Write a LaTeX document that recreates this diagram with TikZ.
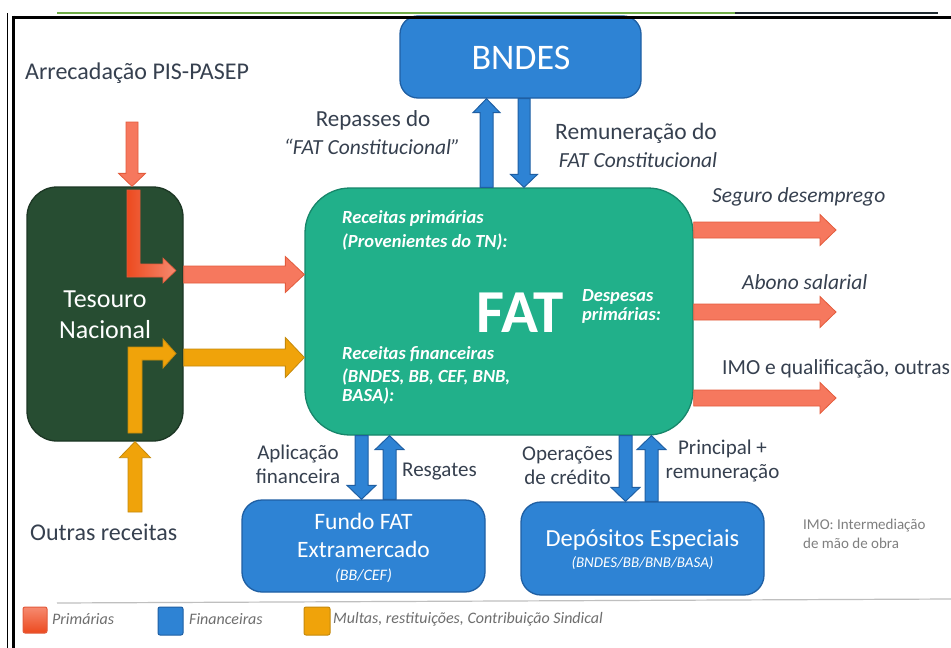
\documentclass[tikz,border=0pt]{standalone}
\usepackage{fontspec}
\setmainfont{Carlito}
\usetikzlibrary{calc}
\definecolor{fatg}{HTML}{21B08A}
\definecolor{fatb}{HTML}{17866A}
\definecolor{tesg}{HTML}{274D32}
\definecolor{tesb}{HTML}{1C3624}
\definecolor{bluef}{HTML}{2E83D4}
\definecolor{blueb}{HTML}{1F5FA3}
\definecolor{orf}{HTML}{F0A30A}
\definecolor{orb}{HTML}{C58A0C}
\definecolor{salf}{HTML}{F6785E}
\definecolor{salb}{HTML}{E35B3C}
\definecolor{redL}{HTML}{EC4A1F}
\definecolor{redL2}{HTML}{F68A70}
\definecolor{labtxt}{HTML}{36404F}
\definecolor{notetxt}{HTML}{7F7F7F}
\definecolor{legtxt}{HTML}{6E6E6E}
\definecolor{frgreen}{HTML}{70AD47}
\definecolor{frdark}{HTML}{1F2A30}
\definecolor{grayline}{HTML}{BFBFBF}
% block arrow: #1 style, #2 start, #3 tip, #4 shaft half width, #5 head half width, #6 head length
\newcommand\blkarrow[6]{%
  \coordinate (ba-h) at ($(#3)!#6!(#2)$);
  \draw[#1] ($(#2)!#4!90:(#3)$) -- ($(ba-h)!#4!-90:(#2)$) -- ($(ba-h)!#5!-90:(#2)$)
    -- (#3) -- ($(ba-h)!#5!90:(#2)$) -- ($(ba-h)!#4!90:(#2)$) -- ($(#2)!#4!-90:(#3)$) -- cycle;}
\begin{document}
\begin{tikzpicture}[x=1pt,y=-1pt,
  box/.style={rectangle, inner sep=0pt, line width=1.3pt},
  bluebox/.style={box, fill=bluef, draw=blueb, rounded corners=20pt, text=white},
  lbl/.style={inner sep=0pt, text=labtxt, font=\fontsize{23}{26}\selectfont, align=center},
  ilbl/.style={inner sep=0pt, text=labtxt, font=\fontsize{21.5}{26}\selectfont\itshape, align=center},
  intxt/.style={inner sep=0pt, text=white, font=\fontsize{18.5}{23}\selectfont\bfseries\itshape, anchor=west},
  salarrow/.style={fill=salf, draw=salb, line width=0.8pt, line join=miter},
  orarrow/.style={fill=orf, draw=orb, line width=0.8pt},
  bluarrow/.style={fill=bluef, draw=blueb, line width=1pt},
  legsq/.style={rounded corners=2pt, line width=1pt},
  legtx/.style={inner sep=0pt, anchor=west, text=legtxt, font=\fontsize{16}{18}\selectfont\itshape}
]
\useasboundingbox (0,0) rectangle (951,648);
\fill[white] (0,0) rectangle (951,648);

% ---- boxes
\node[box, fill=tesg, draw=tesb, rounded corners=30pt, minimum width=156pt, minimum height=254pt] (tes) at (105,314) {};
\node[box, fill=fatg, draw=fatb, rounded corners=45pt, minimum width=388pt, minimum height=247pt] (fat) at (499,311.5) {};
\node[bluebox, minimum width=241pt, minimum height=82pt, rounded corners=18pt] (bndes) at (520.5,57) {};
\node[bluebox, minimum width=243pt, minimum height=92pt] (fundo) at (363.5,546) {};
\node[bluebox, minimum width=243pt, minimum height=93pt] (dep) at (642.5,548.5) {};

% ---- box texts
\node[inner sep=0pt, text=white, font=\fontsize{36}{40}\selectfont] (bndest) at (521,58) {BNDES};
\node[inner sep=0pt, text=white, font=\fontsize{26}{31}\selectfont, align=center] (test) at (105,314.5) {Tesouro\\Nacional};
\node[inner sep=0pt, text=white, font=\fontsize{61}{61}\selectfont\bfseries] (fatt) at (520,313) {FAT};
\node[intxt] (rp1) at (342,218) {Receitas primárias};
\node[intxt] (rp2) at (342,242) {(Provenientes do TN):};
\node[intxt] (dp1) at (582,297) {Despesas};
\node[intxt] (dp2) at (582,315) {primárias:};
\node[intxt] (rf1) at (342,354) {Receitas financeiras};
\node[intxt] (rf2) at (342,377) {(BNDES, BB, CEF, BNB,};
\node[intxt] (rf3) at (342,396) {BASA):};
\node[inner sep=0pt, text=white, font=\fontsize{23.5}{28}\selectfont, align=center] (fundot) at (363.5,535) {Fundo FAT\\Extramercado};
\node[inner sep=0pt, text=white, font=\fontsize{16}{18}\selectfont\itshape] (fundos) at (363.5,576) {(BB/CEF)};
\node[inner sep=0pt, text=white, font=\fontsize{24.5}{28}\selectfont] (dept) at (642.5,540) {Depósitos Especiais};
\node[inner sep=0pt, text=white, font=\fontsize{15}{18}\selectfont\itshape] (deps) at (642.5,563) {(BNDES/BB/BNB/BASA)};

% ---- decorative L arrows inside Tesouro
\draw[left color=redL, right color=redL2, draw=salb, line width=0.6pt]
  (127,190) -- (127,277) -- (163,277) -- (163,283) -- (176,270.5) -- (163,258) -- (163,264) -- (140,264) -- (140,190) -- cycle;
\draw[orarrow]
  (128,433) -- (128,347) -- (163,347) -- (163,339) -- (176,353.5) -- (163,368) -- (163,360) -- (142,360) -- (142,433) -- cycle;

% ---- connectors
\coordinate (pis) at (132,122);
\blkarrow{salarrow}{pis}{132,0 |- tes.north}{6pt}{13.5pt}{13pt}
\coordinate (outras) at (135,512);
\blkarrow{orarrow}{outras}{135,0 |- tes.south}{7pt}{15.5pt}{16pt}
\blkarrow{salarrow}{tes.east |- 0,274.5}{fat.west |- 0,274.5}{8.5pt}{18pt}{19pt}
\blkarrow{orarrow}{tes.east |- 0,357.5}{fat.west |- 0,357.5}{8.5pt}{20pt}{19pt}

\blkarrow{bluarrow}{486.5,0 |- fat.north}{486.5,0 |- bndes.south}{6.5pt}{13.5pt}{14pt}
\blkarrow{bluarrow}{524,0 |- bndes.south}{524,0 |- fat.north}{6pt}{13.5pt}{13pt}

\coordinate (seg) at (836,230);
\coordinate (abo) at (836,312);
\coordinate (imo) at (836,398);
\blkarrow{salarrow}{fat.east |- seg}{seg}{8pt}{15.5pt}{16pt}
\blkarrow{salarrow}{fat.east |- abo}{abo}{8pt}{15.5pt}{16pt}
\blkarrow{salarrow}{fat.east |- imo}{imo}{8pt}{15.5pt}{16pt}

\blkarrow{bluarrow}{361.5,0 |- fat.south}{361.5,0 |- fundo.north}{6.5pt}{14.5pt}{14pt}
\blkarrow{bluarrow}{389.5,0 |- fundo.north}{389.5,0 |- fat.south}{6.5pt}{14.5pt}{14pt}
\blkarrow{bluarrow}{625.5,0 |- fat.south}{625.5,0 |- dep.north}{6.5pt}{14.5pt}{14pt}
\blkarrow{bluarrow}{651.5,0 |- dep.north}{651.5,0 |- fat.south}{6.5pt}{14.5pt}{14pt}

% ---- labels
\node[lbl, font=\fontsize{24}{27}\selectfont, anchor=west] (arrec) at (25,73) {Arrecadação PIS-PASEP};
\node[lbl, font=\fontsize{24}{27}\selectfont, anchor=west] (outt) at (30,532) {Outras receitas};
\node[lbl] (rep1) at (373,120) {Repasses do};
\node[ilbl] (rep2) at (372,147) {“FAT Constitucional”};
\node[lbl, font=\fontsize{23.5}{26}\selectfont] (rem1) at (636,133) {Remuneração do};
\node[ilbl] (rem2) at (638,160) {FAT Constitucional};
\node[ilbl, anchor=west] (segt) at (712,197) {Seguro desemprego};
\node[ilbl, anchor=west] (abot) at (742,282) {Abono salarial};
\node[lbl, font=\fontsize{21.5}{25}\selectfont, anchor=west] (imot) at (722,369) {IMO e qualificação, outras};
\node[lbl, font=\fontsize{21}{24}\selectfont] (aplt) at (298,464) {Aplicação\\financeira};
\node[lbl, font=\fontsize{21}{24}\selectfont] (resg) at (439.5,472) {Resgates};
\node[lbl, font=\fontsize{21}{24}\selectfont] (oper) at (567.5,466) {Operações\\de crédito};
\node[lbl, font=\fontsize{21}{24}\selectfont] (princ) at (722.5,461) {Principal +\\remuneração};
\node[inner sep=0pt, anchor=west, text=notetxt, font=\fontsize{15}{19}\selectfont, align=left] (note) at (803,533.5) {IMO: Intermediação\\de mão de obra};

% ---- legend
\draw[grayline, line width=1.2pt] (57,603) -- (951,599);
\draw[legsq, top color=redL2, bottom color=redL, draw=salb] (23,607) rectangle (47,633);
\node[legtx] (lp) at (52,619) {Primárias};
\draw[legsq, fill=bluef, draw=blueb] (158,607) rectangle (183,635);
\node[legtx] (lf) at (189,619) {Financeiras};
\draw[legsq, fill=orf, draw=orb] (304,607) rectangle (330,635);
\node[legtx] (lm) at (333,619) {Multas, restituições, Contribuição Sindical};

% ---- frame
\draw[black, line width=1.2pt] (7.5,13) -- (7.5,648);
\draw[black, line width=3.5pt] (13.5,15.5) -- (13.5,648);
\draw[black, line width=3pt] (12,17) -- (951,17);
\draw[frgreen, line width=1.5pt] (57,13) -- (735,13);
\draw[frdark, line width=1.5pt] (735,13) -- (938,13);
\end{tikzpicture}
\end{document}
